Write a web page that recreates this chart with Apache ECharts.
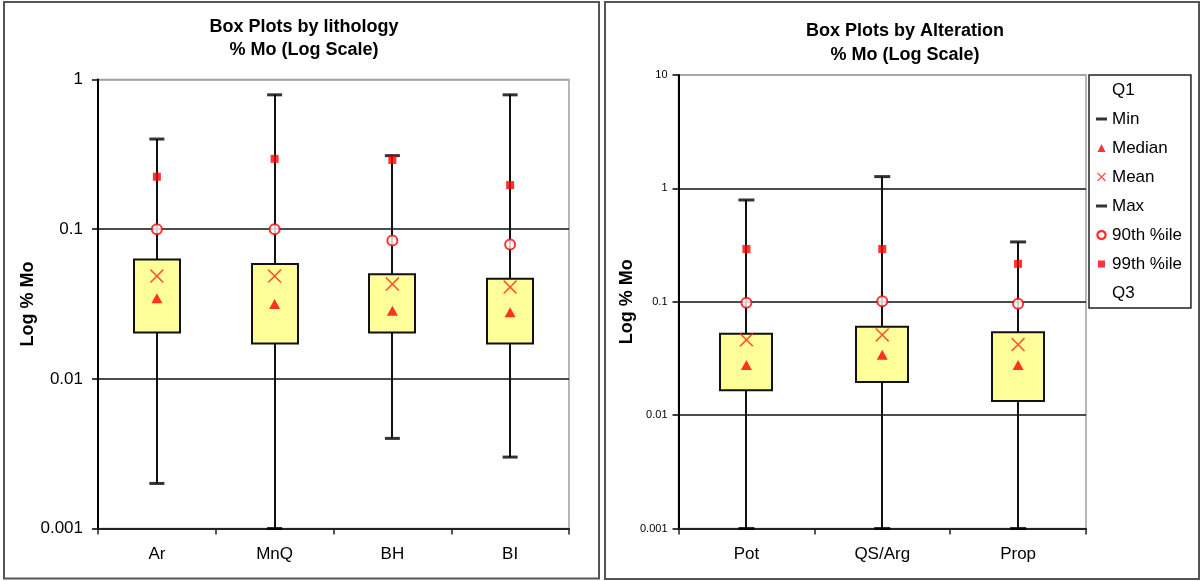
<!DOCTYPE html>
<html>
<head>
<meta charset="utf-8">
<script src="https://cdn.jsdelivr.net/npm/echarts@6/dist/echarts.min.js"></script>
<style>
  html, body { margin: 0; padding: 0; background: #fff; }
  #chart { width: 1201px; height: 581px; }
</style>
</head>
<body>
<div id="chart"></div>
<script>
// ---- Box plot statistics, % Mo by lithology ----
const lithoCategories = ['Ar', 'MnQ', 'BH', 'BI'];
const lithoMin    = [0.002, 0.001, 0.004, 0.003];
const lithoQ1     = [0.0204, 0.0172, 0.0204, 0.0172];
const lithoMedian = [0.0345, 0.0316, 0.0285, 0.0278];
const lithoMean   = [0.0486, 0.0486, 0.0430, 0.0410];
const lithoQ3     = [0.0628, 0.0585, 0.0499, 0.0467];
const lithoMax    = [0.40, 0.79, 0.31, 0.79];
const litho90     = [0.100, 0.100, 0.084, 0.079];
const litho99     = [0.224, 0.295, 0.290, 0.197];
const lithoTicks  = [0.001, 0.01, 0.1, 1];

// ---- Box plot statistics, % Mo by alteration ----
const altCategories = ['Pot', 'QS/Arg', 'Prop'];
const altMin    = [0.001, 0.001, 0.001];
const altQ1     = [0.0166, 0.0196, 0.0133];
const altMedian = [0.0277, 0.0340, 0.0277];
const altMean   = [0.0462, 0.0510, 0.0419];
const altQ3     = [0.0521, 0.0601, 0.0538];
const altMax    = [0.79, 1.27, 0.337];
const alt90     = [0.098, 0.101, 0.096];
const alt99     = [0.292, 0.292, 0.216];
const altTicks  = [0.001, 0.01, 0.1, 1, 10];

const FONT = 'Liberation Sans, Arial, sans-serif';
const RED = '#ff0000';

// thin "x" marker as a filled outline (size S, arm offset d)
function crossPath(S, d, ox, oy) {
  const p = [[0, d], [d, 0], [S / 2, S / 2 - d], [S - d, 0], [S, d], [S / 2 + d, S / 2],
             [S, S - d], [S - d, S], [S / 2, S / 2 + d], [d, S], [0, S - d], [S / 2 - d, S / 2]];
  return p.map((q, i) => (i ? 'L' : 'M') + (q[0] + ox) + ',' + (q[1] + oy)).join('') + 'Z';
}
// ring outline: outer loop one way, inner loop the other way, so the centre stays open
function ringPath(cx, cy, r1, r2, n) {
  const loop = (r, dir) => {
    let s = '';
    for (let k = 0; k < n; k++) {
      const a = dir * 2 * Math.PI * k / n;
      s += (k ? 'L' : 'M') + (cx + r * Math.cos(a)).toFixed(3) + ',' + (cy + r * Math.sin(a)).toFixed(3);
    }
    return s + 'Z';
  };
  return loop(r1, 1) + loop(r2, -1);
}
const meanSymbol = 'path://' + crossPath(100, 8, 0, 0);

// legend icons, all drawn inside an 11 x 11 frame
const FRAME = 'M0,0M11,11';
const icons = {
  blank: 'path://' + FRAME,
  dash: 'path://' + FRAME + 'M0,4H11V7H0Z',
  triangle: 'path://' + FRAME + 'M1.5,9.5L5.5,1.5L9.5,9.5Z',
  cross: 'path://' + FRAME + crossPath(9, 0.9, 1, 1),
  ring: 'path://' + FRAME + ringPath(5.5, 5.5, 4.2, 3.9, 32),
  square: 'path://' + FRAME + 'M2,2H9V9H2Z'
};

function tickFormatter(ticks) {
  return function (v) {
    const t = ticks.find(t => Math.abs(Math.log10(t) - Math.log10(v)) < 1e-6);
    return t === undefined ? '' : String(t);
  };
}

function renderBox(boxRatio) {
  return function (params, api) {
    const i = api.value(0);
    const lo = api.coord([i, api.value(1)]);
    const q1 = api.coord([i, api.value(2)]);
    const q3 = api.coord([i, api.value(3)]);
    const hi = api.coord([i, api.value(4)]);
    const band = api.size([1, 1], [i, 1])[0];
    const w = Math.round(band * boxRatio);
    const x = Math.round(lo[0]);
    return {
      type: 'group',
      children: [
        { type: 'line', shape: { x1: x, y1: lo[1], x2: x, y2: hi[1] },
          style: { stroke: '#111', lineWidth: 2 } },
        { type: 'rect', shape: { x: x - w / 2, y: q3[1], width: w, height: q1[1] - q3[1] },
          style: { fill: '#ffff99', stroke: '#111', lineWidth: 2 } }
      ]
    };
  };
}

function pts(values) { return values.map((v, i) => [i, v]); }

function buildSeries(idx, cats, d, boxRatio, capWidth) {
  const ax = { xAxisIndex: idx, yAxisIndex: idx };
  const sc = (name, values, extra) => Object.assign({
    type: 'scatter', name: name, data: pts(values), clip: false, silent: true,
    emphasis: { disabled: true }
  }, ax, extra);
  return [
    Object.assign({
      type: 'custom', name: 'box', silent: true, clip: false,
      renderItem: renderBox(boxRatio),
      encode: { x: 0, y: [1, 2, 3, 4] },
      data: cats.map((c, i) => [i, d.min[i], d.q1[i], d.q3[i], d.max[i]])
    }, ax),
    sc('Q1', d.q1, { symbolSize: 0, itemStyle: { color: 'rgba(0,0,0,0)' } }),
    sc('Q3', d.q3, { symbolSize: 0, itemStyle: { color: 'rgba(0,0,0,0)' } }),
    sc('Min', d.min, { symbol: 'rect', symbolSize: [capWidth, 3], itemStyle: { color: '#000' } }),
    sc('Max', d.max, { symbol: 'rect', symbolSize: [capWidth, 3], itemStyle: { color: '#000' } }),
    sc('Median', d.median, { symbol: 'triangle', symbolSize: [11, 10], itemStyle: { color: RED } }),
    sc('Mean', d.mean, { symbol: meanSymbol, symbolSize: 14, itemStyle: { color: '#ff2a1a' } }),
    sc('90th %ile', d.p90, { symbol: 'emptyCircle', symbolSize: 10,
      itemStyle: { color: RED, borderColor: RED, borderWidth: 1.3 } }),
    sc('99th %ile', d.p99, { symbol: 'rect', symbolSize: 8, itemStyle: { color: RED } })
  ];
}

function xAxisOf(idx, cats) {
  return {
    type: 'category', gridIndex: idx, data: cats, boundaryGap: true,
    axisLine: { lineStyle: { color: '#222', width: 2 } },
    axisTick: { show: true, length: 6, alignWithLabel: false, lineStyle: { color: '#222', width: 1.5 } },
    axisLabel: { color: '#000', fontSize: 17, fontFamily: FONT, margin: 17 },
    splitLine: { show: false }
  };
}

function yAxisOf(idx, min, max, ticks, labelSize, labelMargin, nameGap) {
  const colors = ticks.map((t, i) => i === ticks.length - 1 ? '#a0a0a0' : '#111');
  return {
    type: 'log', logBase: 10, gridIndex: idx, min: min, max: max,
    name: 'Log % Mo', nameLocation: 'middle', nameRotate: 90, nameGap: nameGap,
    nameTextStyle: { fontSize: 18, fontWeight: 'bold', color: '#000', fontFamily: FONT },
    axisLine: { show: true, lineStyle: { color: '#000', width: 2 } },
    axisTick: { show: true, length: 6, lineStyle: { color: '#000', width: 1.5 } },
    minorTick: { show: false },
    axisLabel: { color: '#000', fontSize: labelSize, fontFamily: FONT, margin: labelMargin,
                 formatter: tickFormatter(ticks) },
    splitLine: { show: true, lineStyle: { color: colors, width: 1.5 } }
  };
}

const lithoStats = { min: lithoMin, q1: lithoQ1, median: lithoMedian, mean: lithoMean,
                     q3: lithoQ3, max: lithoMax, p90: litho90, p99: litho99 };
const altStats = { min: altMin, q1: altQ1, median: altMedian, mean: altMean,
                   q3: altQ3, max: altMax, p90: alt90, p99: alt99 };

const chart = echarts.init(document.getElementById('chart'), null, { renderer: 'canvas' });

chart.setOption({
  backgroundColor: '#fff',
  animation: false,
  textStyle: { fontFamily: FONT },
  title: [
    { text: 'Box Plots by lithology\n% Mo (Log Scale)', left: 304, top: 16, textAlign: 'center', padding: 0,
      textStyle: { fontSize: 18, fontWeight: 'bold', color: '#000', lineHeight: 23, fontFamily: FONT } },
    { text: 'Box Plots by Alteration\n% Mo (Log Scale)', left: 905, top: 19, textAlign: 'center', padding: 0,
      textStyle: { fontSize: 18, fontWeight: 'bold', color: '#000', lineHeight: 24, fontFamily: FONT } }
  ],
  grid: [
    { left: 98, top: 79.5, width: 471, height: 449, show: true, borderColor: '#a0a0a0', borderWidth: 1.5,
      backgroundColor: '#fff', containLabel: false },
    { left: 678.5, top: 75, width: 407.5, height: 453.5, show: true, borderColor: '#a0a0a0', borderWidth: 1.5,
      backgroundColor: '#fff', containLabel: false }
  ],
  xAxis: [xAxisOf(0, lithoCategories), xAxisOf(1, altCategories)],
  yAxis: [
    yAxisOf(0, 0.001, 1, lithoTicks, 17, 15, 55),
    yAxisOf(1, 0.001, 10, altTicks, 11, 11, 38)
  ],
  legend: {
    orient: 'vertical', left: 1089, top: 75,
    padding: [5, 9, 5, 6], itemGap: 9, itemWidth: 11, itemHeight: 11,
    borderColor: '#222', borderWidth: 1.5, backgroundColor: '#fff',
    selectedMode: false,
    textStyle: { fontSize: 17, color: '#000', fontFamily: FONT, lineHeight: 20 },
    data: [
      { name: 'Q1', icon: icons.blank },
      { name: 'Min', icon: icons.dash },
      { name: 'Median', icon: icons.triangle },
      { name: 'Mean', icon: icons.cross },
      { name: 'Max', icon: icons.dash },
      { name: '90th %ile', icon: icons.ring },
      { name: '99th %ile', icon: icons.square },
      { name: 'Q3', icon: icons.blank }
    ]
  },
  graphic: [
    { type: 'rect', shape: { x: 4, y: 2, width: 595, height: 576.5 },
      style: { fill: 'none', stroke: '#555', lineWidth: 2 }, z: 100, silent: true },
    { type: 'rect', shape: { x: 605, y: 2, width: 594, height: 577 },
      style: { fill: 'none', stroke: '#555', lineWidth: 2 }, z: 100, silent: true }
  ],
  series: [].concat(
    buildSeries(0, lithoCategories, lithoStats, 0.39, 15),
    buildSeries(1, altCategories, altStats, 0.38, 16)
  )
});
</script>
</body>
</html>
